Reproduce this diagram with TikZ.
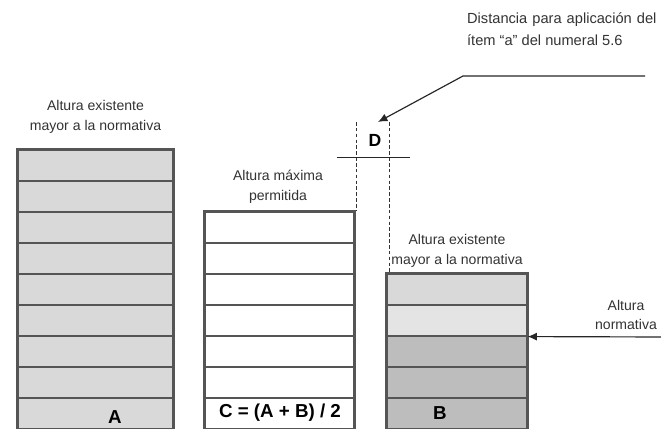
\documentclass[tikz,border=0pt]{standalone}
\usepackage{fontspec}
\setmainfont{Liberation Sans}
\usetikzlibrary{arrows.meta}
\definecolor{wall}{HTML}{555555}
\definecolor{grayA}{HTML}{D9D9D9}
\definecolor{grayB}{HTML}{E4E4E4}
\definecolor{grayD}{HTML}{BDBDBD}
\begin{document}
\begin{tikzpicture}[x=0.03cm,y=-0.03cm]
				\tikzstyle{Floor} = [rectangle, draw=wall, line width=1pt, minimum height=0.93cm, inner sep=0pt]
				\tikzstyle{Frame} = [draw=wall, line width=1.8pt]
				\tikzstyle{Label} = [align=center, font=\fontsize{12}{17}\selectfont, text=black!80]
				\tikzstyle{Big} = [font=\fontsize{16}{18}\bfseries\selectfont]
				\tikzstyle{Guide} = [draw=black!80, line width=0.6pt, dash pattern=on 3pt off 2pt]
				\tikzstyle{Leader} = [draw=black!85, line width=1pt, -{Latex[length=8pt,width=7pt]}]
				\useasboundingbox (0,0) rectangle (661,429);
				% building A
				\node (A1) at (95.5,413.5) [Floor, minimum width=4.65cm, fill=grayA] {};
				\node (A2) at (95.5,382.5) [Floor, minimum width=4.65cm, fill=grayA] {};
				\node (A3) at (95.5,351.5) [Floor, minimum width=4.65cm, fill=grayA] {};
				\node (A4) at (95.5,320.5) [Floor, minimum width=4.65cm, fill=grayA] {};
				\node (A5) at (95.5,289.5) [Floor, minimum width=4.65cm, fill=grayA] {};
				\node (A6) at (95.5,258.5) [Floor, minimum width=4.65cm, fill=grayA] {};
				\node (A7) at (95.5,227.5) [Floor, minimum width=4.65cm, fill=grayA] {};
				\node (A8) at (95.5,196.5) [Floor, minimum width=4.65cm, fill=grayA] {};
				\node (A9) at (95.5,165.5) [Floor, minimum width=4.65cm, fill=grayA] {};
				\draw [Frame] (A1.south west) rectangle (A9.north east);
				% building C
				\node (C1) at (279.5,413.5) [Floor, minimum width=4.47cm, fill=white] {};
				\node (C2) at (279.5,382.5) [Floor, minimum width=4.47cm, fill=white] {};
				\node (C3) at (279.5,351.5) [Floor, minimum width=4.47cm, fill=white] {};
				\node (C4) at (279.5,320.5) [Floor, minimum width=4.47cm, fill=white] {};
				\node (C5) at (279.5,289.5) [Floor, minimum width=4.47cm, fill=white] {};
				\node (C6) at (279.5,258.5) [Floor, minimum width=4.47cm, fill=white] {};
				\node (C7) at (279.5,227.5) [Floor, minimum width=4.47cm, fill=white] {};
				\draw [Frame] (C1.south west) rectangle (C7.north east);
				% building B
				\node (B1) at (457,413.5) [Floor, minimum width=4.2cm, fill=grayD] {};
				\node (B2) at (457,382.5) [Floor, minimum width=4.2cm, fill=grayD] {};
				\node (B3) at (457,351.5) [Floor, minimum width=4.2cm, fill=grayD] {};
				\node (B4) at (457,320.5) [Floor, minimum width=4.2cm, fill=grayB] {};
				\node (B5) at (457,289.5) [Floor, minimum width=4.2cm, fill=grayA] {};
				\draw [Frame] (B1.south west) rectangle (B5.north east);
				% texts
				\node (nA) at (115,417) [Big] {A};
				\node (nC) at (280,413) [Big] {C = (A + B) / 2};
				\node (nB) at (440,413) [Big] {B};
				\node (labA) at (95.5,117) [Label] {Altura existente\\mayor a la normativa};
				\node (labC) at (278,187) [Label] {Altura máxima\\permitida};
				\node (labB) at (457,251) [Label] {Altura existente\\mayor a la normativa};
				\node (labN) at (661,315) [Label, anchor=east] {Altura\\normativa};
				\node (labD) at (463,29) [Label, anchor=west, align=left, font=\fontsize{12.5}{18.5}\selectfont] {Distancia\hspace{4.3pt}para\hspace{4.3pt}aplicación\hspace{4.3pt}del\\ítem “a” del numeral 5.6};
				% distance D
				\node (D) at (375,140) [font=\fontsize{15}{17}\bfseries\selectfont] {D};
				\coordinate (Dl) at (356,122);
				\coordinate (Dr) at (389,122);
				\coordinate (Hl) at (337,157);
				\coordinate (Hr) at (410,157);
				\draw [Guide] (Dl) -- (Dl |- C7.north);
				\draw [Guide] (Dr) -- (Dr |- B5.north);
				\draw [draw=black!85, line width=0.8pt] (Hl) -- (Hr);
				% leaders
				\coordinate (tipD) at (378,122);
				\coordinate (bend) at (463,76);
				\coordinate (endD) at (645,76);
				\coordinate (endN) at (663,337);
				\draw [Leader] (endD) -- (bend) -- (tipD);
				\draw [Leader] (endN) -- (B4.south east);
			\end{tikzpicture}
\end{document}
